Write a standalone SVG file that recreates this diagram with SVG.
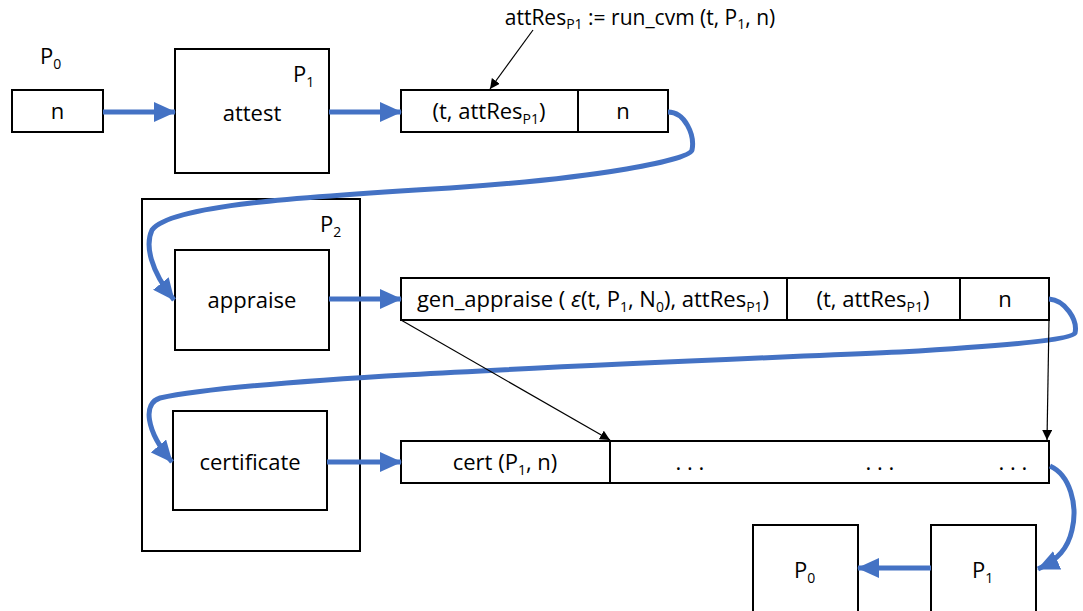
<svg xmlns="http://www.w3.org/2000/svg" width="1083" height="611" viewBox="0 0 1083 611">
<style>
.box{fill:#fff;stroke:#000;stroke-width:2}
.lbl{font-family:"Open Sans","Noto Sans",sans-serif;font-size:22px;fill:#000}
.sub{font-size:14px}
.blue{fill:none;stroke:#4472C4;stroke-width:5;marker-end:url(#bh)}
.thin{fill:none;stroke:#000;stroke-width:1.2;marker-end:url(#th)}
</style>
<defs>
<marker id="bh" markerUnits="userSpaceOnUse" markerWidth="22" markerHeight="20" viewBox="0 0 22 20" refX="21" refY="10" orient="auto"><path d="M0,0 L22,10 L0,20 Z" fill="#4472C4"/></marker>
<marker id="th" markerUnits="userSpaceOnUse" markerWidth="10" markerHeight="10" viewBox="0 0 10 10" refX="10" refY="5" orient="auto"><path d="M0,0 L10,5 L0,10 Z" fill="#000"/></marker>
</defs>
<rect width="1083" height="611" fill="#fff"/>

<g id="p0-label"><text class="lbl" x="40" y="64">P<tspan class="sub" dy="5">0</tspan></text></g>
<g id="nonce"><rect class="box" x="12" y="90" width="91" height="42"/><text class="lbl" x="57.5" y="119" text-anchor="middle">n</text></g>
<g id="attest"><rect class="box" x="175" y="49" width="154" height="124"/><text class="lbl" x="252" y="121" text-anchor="middle">attest</text><text class="lbl" x="293" y="82">P<tspan class="sub" dy="5">1</tspan></text></g>
<g id="annotation"><text class="lbl" x="640" y="25" text-anchor="middle" style="font-size:21px">attRes<tspan class="sub" dy="4" style="font-size:14px">P1</tspan><tspan dy="-4"> := run_cvm (t, P</tspan><tspan class="sub" dy="4" style="font-size:14px">1</tspan><tspan dy="-4">, n)</tspan></text></g>
<g id="record1"><rect class="box" x="401" y="90" width="267" height="42"/><line x1="578" y1="90" x2="578" y2="132" stroke="#000" stroke-width="2"/>
<text class="lbl" x="489" y="119" text-anchor="middle">(t, attRes<tspan class="sub" dy="5">P1</tspan><tspan dy="-5">)</tspan></text>
<text class="lbl" x="623" y="119" text-anchor="middle">n</text></g>

<g id="p2"><rect class="box" x="142" y="199" width="218" height="352" fill="none"/><text class="lbl" x="320" y="232">P<tspan class="sub" dy="5">2</tspan></text></g>
<g id="appraise"><rect class="box" x="175" y="250" width="154" height="100"/><text class="lbl" x="252" y="308" text-anchor="middle">appraise</text></g>
<g id="certificate"><rect class="box" x="173" y="411" width="154" height="99"/><text class="lbl" x="250" y="470" text-anchor="middle">certificate</text></g>

<g id="record2"><rect class="box" x="401" y="278" width="648" height="42"/>
<line x1="787" y1="278" x2="787" y2="320" stroke="#000" stroke-width="2"/><line x1="960" y1="278" x2="960" y2="320" stroke="#000" stroke-width="2"/>
<text class="lbl" x="593" y="307" text-anchor="middle" style="font-size:22px">gen_appraise ( <tspan font-style="italic">ε</tspan>(t, P<tspan class="sub" dy="5">1</tspan><tspan dy="-5">, N</tspan><tspan class="sub" dy="5">0</tspan><tspan dy="-5">), attRes</tspan><tspan class="sub" dy="5">P1</tspan><tspan dy="-5">)</tspan></text>
<text class="lbl" x="873" y="307" text-anchor="middle">(t, attRes<tspan class="sub" dy="5">P1</tspan><tspan dy="-5">)</tspan></text>
<text class="lbl" x="1005" y="307" text-anchor="middle">n</text></g>

<g id="record3"><rect class="box" x="401" y="441" width="648" height="42"/>
<line x1="610" y1="441" x2="610" y2="483" stroke="#000" stroke-width="2"/>
<text class="lbl" x="505" y="470" text-anchor="middle">cert (P<tspan class="sub" dy="5">1</tspan><tspan dy="-5">, n)</tspan></text>
<text class="lbl" x="690" y="470" text-anchor="middle">. . .</text>
<text class="lbl" x="880" y="470" text-anchor="middle">. . .</text>
<text class="lbl" x="1013" y="470" text-anchor="middle">. . .</text></g>

<g id="p1-final"><rect class="box" x="931" y="525" width="105" height="95"/><text class="lbl" x="972" y="578">P<tspan class="sub" dy="5">1</tspan></text></g>
<g id="p0-final"><rect class="box" x="753" y="525" width="105" height="95"/><text class="lbl" x="794" y="578">P<tspan class="sub" dy="5">0</tspan></text></g>

<g id="connectors">
<path class="blue" d="M103,112 L175,112"/>
<path class="blue" d="M329,112 L401,112"/>
<path class="blue" d="M329,299 L401,299"/>
<path class="blue" d="M327,462 L401,462"/>
<path class="blue" d="M931,568 L858,568"/>
<path class="blue" d="M668,112 C685,112 695,135 692,150 C690,160 600,178 450,188 C300,197 170,205 152,230 C145,245 150,270 174,300"/>
<path class="blue" d="M1049,299 C1065,300 1078,320 1075,333 C1072,340 1000,346 900,352 C600,365 250,378 160,398 C143,403 145,430 172,462"/>
<path class="blue" d="M1050,466 C1070,475 1078,505 1072,530 C1068,548 1058,560 1038,569"/>
<path class="thin" d="M533,30 L490,89"/>
<path class="thin" d="M401,320 L610,440"/>
<path class="thin" d="M1049,320 L1047,440"/>
</g>
</svg>
